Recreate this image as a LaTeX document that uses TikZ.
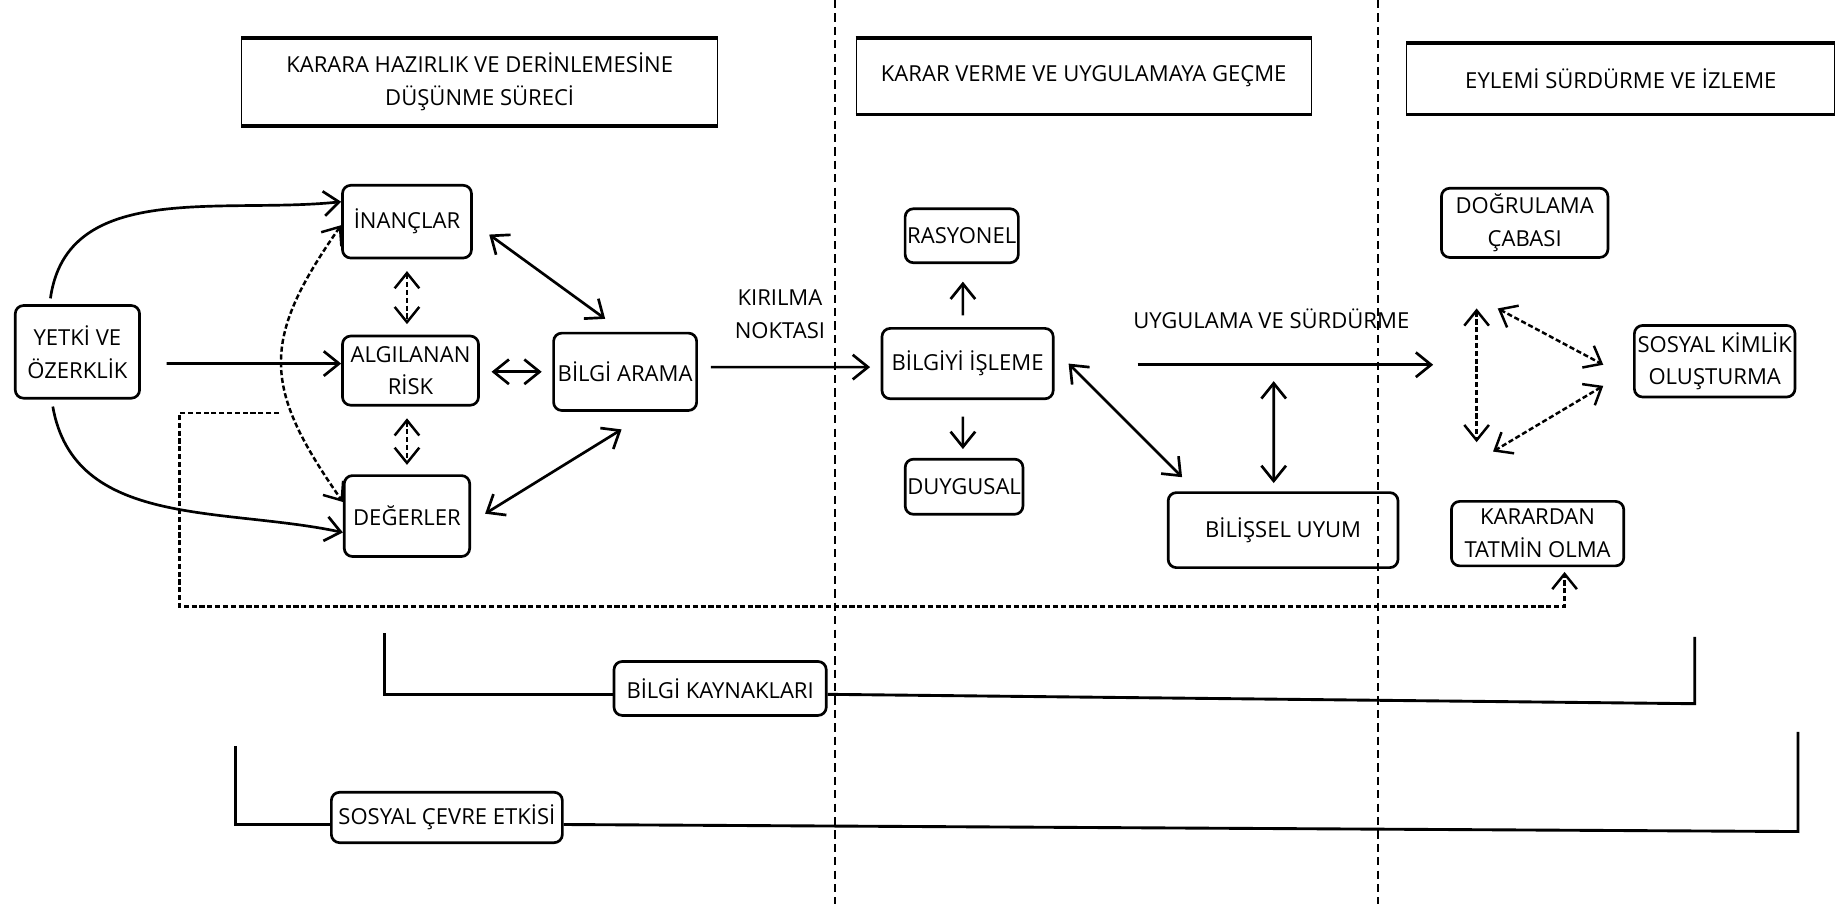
\documentclass[tikz,border=0pt]{standalone}
\usepackage{fontspec}
\setmainfont{Open Sans}
\usetikzlibrary{arrows.meta}

\begin{document}
\begin{tikzpicture}[x=0.02cm, y=0.02cm,
  >={Straight Barb[length=2.6mm,width=4.2mm]},
  font=\fontsize{10.7}{16}\selectfont,
  box/.style={draw, line width=1.3pt, rounded corners=4pt, align=center, inner sep=1pt},
  stage/.style={draw, line width=0.6pt, align=center},
  link/.style={line width=1.3pt},
  dlink/.style={line width=1.2pt, dash pattern=on 2.5pt off 1.3pt},
  divider/.style={line width=0.7pt, dash pattern=on 4pt off 2.5pt},
  bracket/.style={line width=1.4pt}]
\useasboundingbox (0,0) rectangle (1568,-771);

\draw[divider] (712,0) -- (712,-771);
\draw[divider] (1175,0) -- (1175,-771);

\node[stage, minimum width=8.12cm, minimum height=1.48cm] (stage1) at (409,-70) {KARARA HAZIRLIK VE DERİNLEMESİNE\\DÜŞÜNME SÜRECİ};
\node[stage, minimum width=7.76cm, minimum height=1.28cm] (stage2) at (924,-65) {KARAR VERME VE UYGULAMAYA GEÇME};
\node[stage, minimum width=7.3cm, minimum height=1.2cm] (stage3) at (1382,-67) {EYLEMİ SÜRDÜRME VE İZLEME};
\foreach \s in {stage1,stage2,stage3}
  \draw[line width=1.8pt] (\s.north west) -- (\s.north east) (\s.south west) -- (\s.south east);

\node[box, minimum width=2.12cm, minimum height=1.58cm] (yetki) at (66,-300) {YETKİ VE\\ÖZERKLİK};
\node[box, minimum width=2.2cm, minimum height=1.24cm] (inanc) at (347,-189) {İNANÇLAR};
\node[box, minimum width=2.32cm, minimum height=1.18cm] (risk) at (350,-316) {ALGILANAN\\RİSK};
\node[box, minimum width=2.14cm, minimum height=1.38cm] (deger) at (347,-440) {DEĞERLER};
\node[box, minimum width=2.44cm, minimum height=1.32cm] (arama) at (533,-317) {BİLGİ ARAMA};
\node[box, minimum width=2.92cm, minimum height=1.2cm] (isleme) at (825,-310) {BİLGİYİ İŞLEME};
\node[box, minimum width=1.86cm, minimum height=0.92cm] (rasyonel) at (820,-201) {RASYONEL};
\node[box, minimum width=1.96cm, minimum height=0.94cm] (duygusal) at (822,-415) {DUYGUSAL};
\node[box, minimum width=3.92cm, minimum height=1.28cm] (uyum) at (1094,-452) {BİLİŞSEL UYUM};
\node[box, minimum width=2.84cm, minimum height=1.18cm] (dogrulama) at (1300,-190) {DOĞRULAMA\\ÇABASI};
\node[box, minimum width=2.74cm, minimum height=1.22cm] (kimlik) at (1462,-308) {SOSYAL KİMLİK\\OLUŞTURMA};
\node[box, minimum width=2.94cm, minimum height=1.1cm] (tatmin) at (1311,-455) {KARARDAN\\TATMİN OLMA};
\node[box, minimum width=3.62cm, minimum height=0.92cm] (kaynak) at (614,-587) {BİLGİ KAYNAKLARI};
\node[box, minimum width=3.94cm, minimum height=0.86cm] (cevre) at (381,-697) {SOSYAL ÇEVRE ETKİSİ};

\node[align=center] (kirilma) at (665,-268) {KIRILMA\\NOKTASI};
\node (uygulama) at (1084,-272) {UYGULAMA VE SÜRDÜRME};

\draw[link,->] ([xshift=-0.46cm,yshift=0.1cm]yetki.north) to[out=82,in=186] ([yshift=0.34cm]inanc.west);
\draw[link,->] ([xshift=0.44cm,yshift=-0.2cm]yetki.east) -- ([yshift=0.12cm]risk.west);
\draw[link,->] ([xshift=-0.42cm,yshift=-0.12cm]yetki.south) to[out=-80,in=168] ([yshift=-0.28cm]deger.west);
\draw[dlink,<->] ([yshift=-0.06cm]inanc.west) to[out=235,in=125,looseness=1.3] ([yshift=0.24cm]deger.west);
\draw[dlink,<->] ([yshift=-0.2cm]inanc.south) -- ([yshift=0.18cm]inanc.south |- risk.north);
\draw[dlink,<->] ([yshift=-0.2cm]deger.north |- risk.south) -- ([yshift=0.16cm]deger.north);
\draw[link,<->] ([xshift=0.28cm,yshift=-0.22cm]inanc.east) -- ([xshift=-0.34cm,yshift=0.22cm]arama.north);
\draw[link,<->] ([xshift=0.2cm,yshift=-0.02cm]risk.east) -- ([xshift=-0.18cm]arama.west);
\draw[link,<->] ([xshift=0.24cm,yshift=0.04cm]deger.east) -- ([xshift=-0.06cm,yshift=-0.3cm]arama.south);
\draw[link,->] ([xshift=0.22cm,yshift=0.08cm]arama.east) -- ([xshift=-0.18cm,yshift=-0.06cm]isleme.west);
\draw[link,->] ([xshift=-0.08cm,yshift=0.2cm]isleme.north) -- ([xshift=0.02cm,yshift=-0.3cm]rasyonel.south);
\draw[link,->] ([xshift=-0.08cm,yshift=-0.28cm]isleme.south) -- ([xshift=-0.02cm,yshift=0.15cm]duygusal.north);
\draw[link,<->] ([xshift=0.24cm]isleme.east) -- ([xshift=0.26cm,yshift=0.24cm]uyum.north west);

\coordinate (uygbas) at (970,-311);
\coordinate (uygson) at (1222,-311);
\draw[link,->] (uygbas) -- (uygson);
\coordinate (uyorta) at (1086,-325);
\draw[link,<->] (uyorta) -- ([xshift=-0.16cm,yshift=0.14cm]uyum.north);

\coordinate (d1) at (1259,-263);
\coordinate (d2) at (1259,-377);
\coordinate (d3) at (1277,-263);
\coordinate (d4) at (1367,-311);
\coordinate (d5) at (1367,-329);
\coordinate (d6) at (1273,-385);
\draw[dlink,<->] (d1) -- (d2);
\draw[dlink,<->] (d3) -- (d4);
\draw[dlink,<->] (d5) -- (d6);

\coordinate (geri) at (238,-352);
\coordinate (gerikose) at (153,-517);
\draw[dlink,->] (geri) -| (gerikose) -| ([xshift=0.46cm,yshift=-0.08cm]tatmin.south);

\coordinate (kaynaksol) at (328,-540);
\coordinate (kaynaksag) at (1445,-543);
\coordinate (kaynakalt) at (1445,-600);
\draw[bracket] (kaynaksol) |- ([yshift=-0.1cm]kaynak.west);
\draw[bracket] ([yshift=-0.1cm]kaynak.east) -- (kaynakalt) -- (kaynaksag);

\coordinate (cevresol) at (201,-636);
\coordinate (cevresag) at (1533,-624);
\coordinate (cevrealt) at (1533,-709);
\draw[bracket] (cevresol) |- ([yshift=-0.12cm]cevre.west);
\draw[bracket] ([yshift=-0.12cm]cevre.east) -- (cevrealt) -- (cevresag);
\end{tikzpicture}
\end{document}
